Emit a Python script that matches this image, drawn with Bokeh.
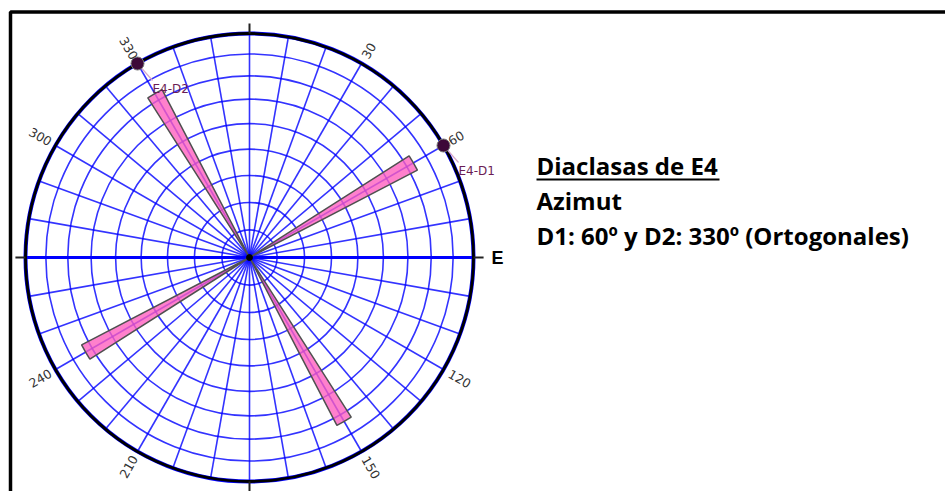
import numpy as np
from bokeh.plotting import figure
from bokeh.models import Range1d, ColumnDataSource
from bokeh.embed import file_html
from bokeh.resources import INLINE
from bokeh.core.properties import value

# ---------------- data ----------------
set_names = ["E4-D1", "E4-D2"]
set_azimuths = [60, 330]            # degrees (clockwise from N)
petal_length = [0.845, 0.845]       # fraction of primitive radius
petal_width_deg = 5
ring_dips = [10, 20, 30, 40, 50, 60, 70, 80]   # equal-area rings
radial_step_deg = 10
tick_label_az = [30, 60, 120, 150, 210, 240, 300, 330]
compass_az = [0, 90, 180, 270]
compass_labels = ["", "E", "", ""]
title_lines = ["Diaclasas de E4", "Azimut", "D1: 60º y D2: 330º (Ortogonales)"]

# ---------------- geometry helpers ----------------
S = 224.0               # pixels per unit radius
CX, CY = 249.0, 257.0   # centre in picture pixels
W, H = 945, 491

def sx(x):
    return (x - CX) / S

def sy(y):
    return (CY - y) / S

def pol(az, r):
    t = np.radians(90 - np.asarray(az, dtype=float))
    return np.asarray(r) * np.cos(t), np.asarray(r) * np.sin(t)

p = figure(width=W, height=H, output_backend="svg", toolbar_location=None,
           x_range=Range1d(sx(0), sx(W)), y_range=Range1d(sy(H), sy(0)),
           min_border=0, outline_line_color=None)
p.axis.visible = False
p.grid.visible = False
p.background_fill_color = "white"

# frame
p.quad(left=sx(10), right=sx(1200), top=sy(11.5), bottom=sy(900),
       fill_color=None, line_color="black", line_width=3.5)

# grid: radials every 10 deg
rad_az = np.arange(0, 360, radial_step_deg)
xs, ys = [], []
for a in rad_az:
    x1, y1 = pol(a, 1.0)
    xs.append([0, float(x1)])
    ys.append([0, float(y1)])
p.multi_line(xs, ys, line_color="#0000ff", line_alpha=0.8, line_width=1.6)

# equal-area rings
ring_r = [np.sqrt(2) * np.sin(np.radians(d / 2.0)) for d in ring_dips]
p.circle(x=[0] * len(ring_r), y=[0] * len(ring_r), radius=ring_r,
         fill_color=None, line_color="#0000ff", line_alpha=0.8, line_width=1.6)

# E-W thick line
ex, ey = pol([90, 270], [1.0, 1.0])
p.line([float(ex[1]), float(ex[0])], [float(ey[1]), float(ey[0])],
       line_color="#0000ff", line_width=3)

# petals (bidirectional)
pet_az = set_azimuths + [(a + 180) % 360 for a in set_azimuths]
pet_len = petal_length + petal_length
start = [90 - a - petal_width_deg / 2 for a in pet_az]
end = [90 - a + petal_width_deg / 2 for a in pet_az]
p.wedge(x=[0] * 4, y=[0] * 4, radius=pet_len, start_angle=start, end_angle=end,
        start_angle_units="deg", end_angle_units="deg",
        fill_color="#ff5cbe", fill_alpha=0.78, line_color="#505050", line_width=1.5)

# primitive circle
p.circle(x=[0], y=[0], radius=[1.0], fill_color=None, line_color="#0000ff", line_width=4)
p.circle(x=[0], y=[0], radius=[1.0], fill_color=None, line_color="black", line_width=2.8)

# compass ticks
for a in compass_az:
    x0, y0 = pol(a, 1.0)
    x1, y1 = pol(a, 1.045)
    p.line([float(x0), float(x1)], [float(y0), float(y1)], line_color="#222222", line_width=2)

# centre dot
p.scatter([0], [0], size=6, color="black")

# degree tick labels
tx, ty, tt, ta, tal = [], [], [], [], []
for a in tick_label_az:
    if a < 180:
        x, y = pol(a, 1.03)
        ang = 90 - a
        al = "left"
    else:
        x, y = pol(a, 1.025)
        ang = 270 - a
        al = "right"
    tx.append(float(x)); ty.append(float(y)); tt.append(str(a)); ta.append(ang); tal.append(al)
src = ColumnDataSource(dict(x=tx, y=ty, text=tt, angle=ta, align=tal))
p.text(x="x", y="y", text="text", angle="angle", angle_units="deg", text_align="align",
       text_baseline="middle", text_font=value("DejaVu Sans"), text_font_size="12.5px",
       text_color="#333333", source=src)

# compass letter
for a, lab in zip(compass_az, compass_labels):
    if lab:
        x, y = pol(a, 1.08)
        p.text([float(x)], [float(y)], text=[lab], text_align="left", text_baseline="middle",
               text_font=value("Liberation Sans"), text_font_style="bold",
               text_font_size="18px", text_color="black")

# set markers, leaders and labels
mx, my = pol(set_azimuths, [1.0] * len(set_azimuths))
lx = mx + 15 / S
ly = my - 25 / S
p.segment(x0=mx, y0=my, x1=lx, y1=ly + 8 / S, line_color="#d8a8c8", line_width=1.2)
p.scatter(mx, my, size=13, fill_color="#3d0838", line_color="#777777", line_width=1)
p.text(lx, ly, text=set_names, text_align="left", text_baseline="middle",
       text_font=value("DejaVu Sans"), text_font_size="12px", text_color="#6b1c55")

# right-side description (vertical centres of lines)
mids = [165, 200, 235]
p.text([sx(536)] * 3, [sy(m) for m in mids], text=title_lines, text_align="left",
       text_baseline="middle", text_font=value("Open Sans"), text_font_style="bold",
       text_font_size="24px", text_color="black")
p.segment(x0=[sx(536)], y0=[sy(179)], x1=[sx(719)], y1=[sy(179)], line_color="black", line_width=2)

open("out.html", "w").write(file_html(p, INLINE))
